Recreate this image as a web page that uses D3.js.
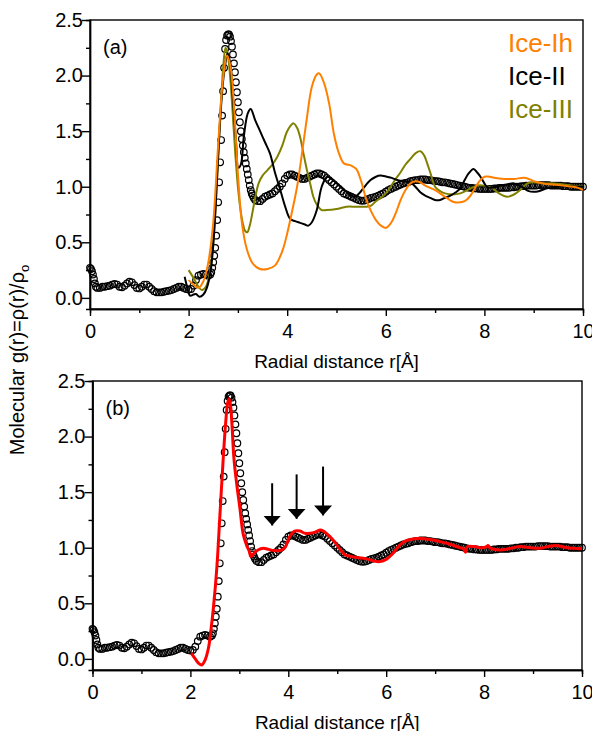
<!DOCTYPE html>
<html>
<head>
<meta charset="utf-8">
<script src="https://cdn.jsdelivr.net/npm/d3@7"></script>
<style>
  body { margin: 0; background: #fff; }
  svg { display: block; font-family: "Liberation Sans", Arial, sans-serif; }
  .axis path, .axis line { stroke: #000; stroke-width: 1.4; }
  .axis text { font-size: 20px; fill: #000; }
</style>
</head>
<body>
<svg id="chart" width="592" height="731"></svg>
<script>
// experimental molecular g(r), open circles (same data in both panels)
const expData = [
  [0,0.27],[0.02,0.26],[0.04,0.24],[0.06,0.21],[0.08,0.17],[0.1,0.13],[0.12,0.1],[0.15,0.09],
  [0.2,0.09],[0.25,0.1],[0.3,0.1],[0.35,0.105],[0.4,0.11],[0.45,0.12],[0.5,0.125],[0.55,0.12],
  [0.6,0.1],[0.65,0.095],[0.7,0.11],[0.75,0.13],[0.8,0.145],[0.85,0.14],[0.9,0.115],[0.95,0.09],
  [1,0.085],[1.05,0.1],[1.1,0.12],[1.15,0.12],[1.2,0.1],[1.25,0.08],[1.3,0.06],[1.35,0.05],
  [1.4,0.05],[1.45,0.05],[1.5,0.055],[1.55,0.06],[1.6,0.065],[1.65,0.07],[1.7,0.08],[1.75,0.09],
  [1.8,0.1],[1.85,0.1],[1.9,0.09],[1.95,0.08],[2,0.075],[2.05,0.08],[2.1,0.11],[2.15,0.16],
  [2.2,0.2],[2.25,0.21],[2.3,0.215],[2.35,0.21],[2.4,0.2],[2.44,0.21],[2.46,0.23],[2.48,0.27],
  [2.5,0.32],[2.52,0.38],[2.54,0.45],[2.56,0.56],[2.58,0.7],[2.6,0.86],[2.62,1.04],[2.64,1.22],
  [2.66,1.42],[2.68,1.64],[2.7,1.86],[2.72,2.07],[2.74,2.24],[2.76,2.32],[2.78,2.36],[2.8,2.37],
  [2.82,2.37],[2.84,2.35],[2.86,2.31],[2.88,2.26],[2.9,2.19],[2.92,2.11],[2.94,2.03],[2.96,1.94],
  [2.98,1.85],[3,1.76],[3.02,1.67],[3.04,1.58],[3.06,1.5],[3.08,1.43],[3.1,1.37],[3.12,1.31],
  [3.14,1.26],[3.16,1.21],[3.18,1.16],[3.2,1.11],[3.22,1.06],[3.24,1.01],[3.26,0.97],[3.28,0.94],
  [3.3,0.92],[3.32,0.9],[3.35,0.88],[3.4,0.87],[3.45,0.87],[3.5,0.89],[3.55,0.91],[3.6,0.92],
  [3.65,0.93],[3.7,0.94],[3.75,0.96],[3.8,0.98],[3.85,1],[3.9,1.03],[3.95,1.07],[4,1.1],
  [4.05,1.11],[4.1,1.11],[4.15,1.1],[4.2,1.09],[4.25,1.08],[4.3,1.07],[4.35,1.07],[4.4,1.08],
  [4.45,1.09],[4.5,1.1],[4.55,1.11],[4.6,1.12],[4.65,1.12],[4.7,1.11],[4.75,1.1],[4.8,1.08],
  [4.85,1.06],[4.9,1.04],[4.95,1.02],[5,1],[5.05,0.98],[5.1,0.96],[5.15,0.94],[5.2,0.93],
  [5.25,0.92],[5.3,0.91],[5.35,0.9],[5.4,0.89],[5.45,0.88],[5.5,0.875],[5.55,0.875],[5.6,0.88],
  [5.65,0.89],[5.7,0.9],[5.75,0.905],[5.8,0.91],[5.85,0.92],[5.9,0.93],[5.95,0.94],[6,0.955],
  [6.05,0.97],[6.1,0.98],[6.15,0.99],[6.2,1],[6.25,1.01],[6.3,1.02],[6.35,1.03],[6.4,1.035],
  [6.45,1.04],[6.5,1.05],[6.55,1.055],[6.6,1.06],[6.65,1.06],[6.7,1.065],[6.75,1.065],[6.8,1.065],
  [6.85,1.06],[6.9,1.06],[6.95,1.055],[7,1.05],[7.05,1.05],[7.1,1.045],[7.15,1.04],[7.2,1.04],
  [7.25,1.035],[7.3,1.03],[7.35,1.025],[7.4,1.02],[7.45,1.015],[7.5,1.01],[7.55,1.005],[7.6,1],
  [7.65,0.995],[7.7,0.99],[7.75,0.99],[7.8,0.985],[7.85,0.985],[7.9,0.98],[7.95,0.98],[8,0.98],
  [8.05,0.98],[8.1,0.98],[8.15,0.98],[8.2,0.985],[8.25,0.985],[8.3,0.99],[8.35,0.99],[8.4,0.99],
  [8.45,0.99],[8.5,0.99],[8.55,0.995],[8.6,0.995],[8.65,1],[8.7,1],[8.75,1.005],[8.8,1.005],
  [8.85,1.01],[8.9,1.01],[8.95,1.01],[9,1.01],[9.05,1.01],[9.1,1.015],[9.15,1.015],[9.2,1.015],
  [9.25,1.015],[9.3,1.015],[9.35,1.01],[9.4,1.01],[9.45,1.01],[9.5,1.01],[9.55,1.01],[9.6,1.005],
  [9.65,1.005],[9.7,1.005],[9.75,1],[9.8,1],[9.85,1],[9.9,1],[9.95,1],[10,1]
]

// simulated ice phases, panel (a)
const iceIh = [
  [2,0.16],[2.1,0.12],[2.2,0.09],[2.3,0.15],[2.4,0.32],[2.5,0.68],[2.6,1.38],[2.7,1.98],
  [2.78,2.18],[2.85,2.08],[2.92,1.72],[3,1.12],[3.08,0.68],[3.18,0.44],[3.3,0.31],[3.45,0.26],
  [3.6,0.26],[3.75,0.29],[3.9,0.42],[4,0.58],[4.1,0.78],[4.2,1],[4.3,1.3],[4.4,1.62],[4.5,1.9],
  [4.6,2.01],[4.65,2.02],[4.75,1.93],[4.85,1.75],[4.95,1.47],[5.05,1.3],[5.15,1.21],[5.3,1.19],
  [5.4,1.16],[5.5,1.05],[5.6,0.89],[5.7,0.78],[5.8,0.7],[5.9,0.65],[6,0.63],[6.1,0.67],[6.2,0.76],
  [6.3,0.88],[6.4,0.97],[6.5,1.03],[6.6,1.05],[6.7,1.04],[6.8,1.01],[6.9,0.99],[7,0.97],[7.1,0.94],
  [7.2,0.91],[7.3,0.88],[7.4,0.86],[7.5,0.86],[7.6,0.87],[7.7,0.91],[7.8,0.98],[7.9,1.05],[8,1.09],
  [8.1,1.09],[8.2,1.08],[8.4,1.07],[8.6,1.07],[8.8,1.08],[8.9,1.07],[9,1.05],[9.2,1.03],[9.4,1.02],
  [9.6,1.01],[9.8,1],[9.9,0.99],[10,0.97]
]
const iceII = [
  [1.92,0.19],[1.97,0.1],[2.03,0.02],[2.1,0.03],[2.15,0.035],[2.22,0.01],[2.3,0.03],[2.37,0.09],
  [2.45,0.25],[2.52,0.6],[2.58,1.1],[2.64,1.6],[2.7,1.95],[2.75,2.12],[2.79,2.2],[2.84,2.12],
  [2.9,1.78],[2.96,1.42],[3.01,1.17],[3.06,1.2],[3.12,1.45],[3.2,1.66],[3.26,1.7],[3.35,1.6],
  [3.45,1.5],[3.55,1.4],[3.65,1.3],[3.75,1.13],[3.86,0.97],[3.96,0.82],[4.06,0.71],[4.16,0.69],
  [4.26,0.675],[4.36,0.66],[4.43,0.65],[4.5,0.68],[4.6,0.79],[4.7,1],[4.81,1.09],[4.9,1.07],
  [5.01,1.03],[5.11,0.99],[5.21,0.95],[5.3,0.92],[5.38,0.91],[5.46,0.94],[5.55,0.99],[5.69,1.06],
  [5.8,1.09],[5.89,1.1],[6.02,1.09],[6.12,1.08],[6.23,1.06],[6.35,1.05],[6.5,1.04],[6.6,1],
  [6.7,0.95],[6.8,0.92],[6.9,0.9],[7,0.88],[7.1,0.88],[7.2,0.9],[7.31,0.92],[7.42,0.95],
  [7.51,0.985],[7.6,1.06],[7.68,1.12],[7.78,1.16],[7.85,1.13],[7.92,1.09],[8,1.03],[8.05,1],
  [8.15,0.99],[8.33,1.01],[8.45,1.02],[8.6,1.03],[8.75,1],[8.9,0.96],[9,0.955],[9.1,0.96],
  [9.27,0.985],[9.45,1],[9.68,1.005],[10,1]
]
const iceIII = [
  [2,0.25],[2.1,0.18],[2.2,0.1],[2.27,0.07],[2.35,0.1],[2.42,0.2],[2.5,0.5],[2.58,1.1],[2.65,1.7],
  [2.71,2.12],[2.75,2.25],[2.79,2.2],[2.85,1.95],[2.9,1.62],[2.95,1.28],[3,1],[3.05,0.8],[3.1,0.67],
  [3.15,0.6],[3.19,0.59],[3.24,0.65],[3.3,0.78],[3.36,0.92],[3.42,1.03],[3.5,1.1],[3.6,1.15],
  [3.7,1.2],[3.8,1.27],[3.9,1.37],[3.99,1.49],[4.07,1.55],[4.13,1.57],[4.2,1.53],[4.26,1.45],
  [4.33,1.3],[4.4,1.15],[4.47,1.02],[4.53,0.91],[4.6,0.84],[4.7,0.79],[4.8,0.79],[5,0.8],[5.2,0.82],
  [5.4,0.82],[5.6,0.82],[5.7,0.83],[5.8,0.87],[5.9,0.9],[6,0.94],[6.1,1],[6.2,1.07],[6.3,1.13],
  [6.4,1.2],[6.5,1.25],[6.6,1.3],[6.7,1.32],[6.78,1.28],[6.84,1.21],[6.9,1.13],[7,1],[7.1,0.96],
  [7.2,0.94],[7.35,0.93],[7.51,0.94],[7.7,0.98],[7.85,1.01],[8,1.01],[8.15,0.99],[8.3,0.94],
  [8.46,0.91],[8.6,0.93],[8.75,0.98],[8.87,1.03],[9,1.04],[9.2,1.03],[9.41,1.03],[9.6,1.02],
  [9.8,1.01],[10,1]
]
// model curve, panel (b)
const model = [
  [2.02,0.05],[2.1,0],[2.17,-0.04],[2.23,-0.055],[2.3,-0.01],[2.37,0.1],[2.42,0.26],[2.47,0.46],
  [2.54,0.82],[2.6,1.27],[2.67,1.8],[2.72,2.12],[2.76,2.3],[2.79,2.34],[2.82,2.28],[2.85,2.1],
  [2.89,1.8],[2.95,1.56],[3.01,1.36],[3.08,1.12],[3.15,1.02],[3.2,0.97],[3.24,0.92],[3.3,0.95],
  [3.38,0.98],[3.49,0.995],[3.6,0.985],[3.7,0.975],[3.83,0.975],[3.93,1],[4.03,1.1],[4.13,1.15],
  [4.24,1.15],[4.34,1.13],[4.44,1.13],[4.55,1.14],[4.66,1.16],[4.75,1.14],[4.85,1.1],[4.95,1.05],
  [5.05,0.99],[5.15,0.94],[5.3,0.92],[5.45,0.91],[5.6,0.9],[5.75,0.88],[5.87,0.875],[5.98,0.89],
  [6.07,0.92],[6.14,0.95],[6.25,1.01],[6.35,1.05],[6.45,1.07],[6.57,1.08],[6.69,1.085],[6.8,1.08],
  [6.96,1.07],[7.1,1.055],[7.24,1.04],[7.38,1.02],[7.51,1],[7.58,0.99],[7.62,0.96],[7.66,1.01],
  [7.8,1.01],[7.95,1],[8.05,1.01],[8.08,1.02],[8.12,1],[8.32,0.98],[8.5,0.99],[8.73,1.01],
  [8.95,1],[9.14,0.995],[9.3,1.01],[9.48,1.02],[9.65,1.005],[9.82,0.995],[10,0.99]
]

const legendNames = ['Ice-Ih', 'Ice-II', 'Ice-III']
const legendColors = ['#ff8000', '#000000', '#808000']

// arrows in panel (b): position, tail and tip heights
const arrowR = [3.67, 4.17, 4.71]
const arrowTop = [1.58, 1.66, 1.73]
const arrowTip = [1.2, 1.26, 1.29]

const xTicks = [0, 2, 4, 6, 8, 10]
const xMinor = [1, 3, 5, 7, 9]
const yTicks = [0, 0.5, 1, 1.5, 2, 2.5]
const yMinor = [0.25, 0.75, 1.25, 1.75, 2.25]

const svg = d3.select('#chart')

svg.append('defs').append('marker')
  .attr('id', 'head')
  .attr('viewBox', '0 0 10 20')
  .attr('refX', 10).attr('refY', 10)
  .attr('markerWidth', 10).attr('markerHeight', 20)
  .attr('markerUnits', 'userSpaceOnUse')
  .attr('orient', 'auto')
  .append('path')
  .attr('d', 'M0,1 L10,10 L0,19 Z')

function panel(box, label) {
  const x = d3.scaleLinear().domain([0, 10]).range([box.left, box.right])
  const y = d3.scaleLinear().domain([-0.1, 2.5]).range([box.bottom, box.top])
  const g = svg.append('g')

  g.append('g').attr('class', 'axis')
    .attr('transform', `translate(0,${box.bottom})`)
    .call(d3.axisBottom(x).tickValues(xMinor).tickSize(4).tickFormat(''))
  g.append('g').attr('class', 'axis')
    .attr('transform', `translate(0,${box.bottom})`)
    .call(d3.axisBottom(x).tickValues(xTicks).tickSize(7).tickSizeOuter(0).tickPadding(8).tickFormat(d3.format('d')))
  g.append('g').attr('class', 'axis')
    .attr('transform', `translate(${box.left},0)`)
    .call(d3.axisLeft(y).tickValues(yMinor).tickSize(4).tickFormat(''))
  g.append('g').attr('class', 'axis')
    .attr('transform', `translate(${box.left},0)`)
    .call(d3.axisLeft(y).tickValues(yTicks).tickSize(8).tickSizeOuter(0).tickPadding(-1).tickFormat(d3.format('.1f')))

  g.append('rect')
    .attr('x', box.left).attr('y', box.top)
    .attr('width', box.right - box.left).attr('height', box.bottom - box.top)
    .attr('fill', 'none').attr('stroke', '#000').attr('stroke-width', 1.4)

  g.append('text')
    .attr('x', (box.left + box.right) / 2).attr('y', box.bottom + 59)
    .attr('text-anchor', 'middle').attr('font-size', 19)
    .text('Radial distance r[Å]')

  g.append('text')
    .attr('x', box.left + 13).attr('y', box.top + 34)
    .attr('font-size', 20)
    .text(label)

  g.append('g')
    .selectAll('circle')
    .data(expData)
    .enter()
    .append('circle')
    .attr('cx', d => x(d[0]))
    .attr('cy', d => y(d[1]))
    .attr('r', 3.3)
    .attr('fill', 'none')
    .attr('stroke', '#000')
    .attr('stroke-width', 1.2)

  return { g, x, y }
}

// (a)
const a = panel({ left: 90, right: 583, top: 20, bottom: 309 }, '(a)')
const lineA = d3.line().x(d => a.x(d[0])).y(d => a.y(d[1])).curve(d3.curveCatmullRom.alpha(0.5))

;[iceIII, iceII, iceIh].forEach(function(s, i) {
  a.g.append('path')
    .datum(s)
    .attr('d', lineA)
    .attr('fill', 'none')
    .attr('stroke', legendColors[2 - i])
    .attr('stroke-width', 2)
})

a.g.selectAll('text.legend')
  .data(legendNames)
  .enter()
  .append('text')
  .attr('class', 'legend')
  .attr('x', 508)
  .attr('y', (d, i) => 52 + i * 33)
  .attr('font-size', 26)
  .attr('fill', (d, i) => legendColors[i])
  .text(d => d)

// (b)
const b = panel({ left: 92.5, right: 582, top: 381, bottom: 670 }, '(b)')
const lineB = d3.line().x(d => b.x(d[0])).y(d => b.y(d[1])).curve(d3.curveCatmullRom.alpha(0.5))

b.g.append('path')
  .datum(model)
  .attr('d', lineB)
  .attr('fill', 'none')
  .attr('stroke', '#ff0000')
  .attr('stroke-width', 3)
  .attr('stroke-linejoin', 'round')

b.g.selectAll('line.arrow')
  .data(arrowR)
  .enter()
  .append('line')
  .attr('class', 'arrow')
  .attr('x1', d => b.x(d)).attr('x2', d => b.x(d))
  .attr('y1', (d, i) => b.y(arrowTop[i]))
  .attr('y2', (d, i) => b.y(arrowTip[i]))
  .attr('stroke', '#000')
  .attr('stroke-width', 2)
  .attr('marker-end', 'url(#head)')

// shared y label
svg.append('text')
  .attr('transform', 'translate(24,360) rotate(-90)')
  .attr('text-anchor', 'middle')
  .attr('font-size', 20)
  .html('Molecular g(r)=ρ(r)/ρ<tspan font-size="13" dy="5">o</tspan>')
</script>
</body>
</html>
